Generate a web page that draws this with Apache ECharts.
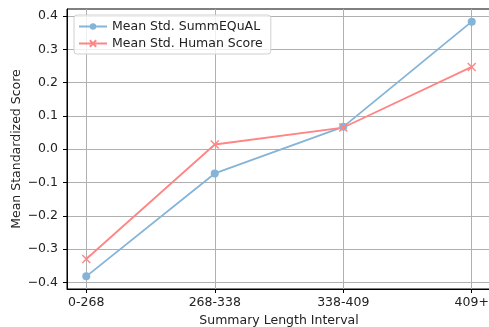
<!DOCTYPE html>
<html><head><meta charset="utf-8">
<script src="https://cdn.jsdelivr.net/npm/echarts@6/dist/echarts.min.js"></script>
<style>html,body{margin:0;padding:0;background:#fff}#c{width:489px;height:327px}</style>
</head><body><div id="c"></div>
<script>
const categories = ['0-268', '268-338', '338-409', '409+'];
const summequal = [-0.382, -0.073, 0.067, 0.383];
const human = [-0.330, 0.014, 0.065, 0.247];
const yTicks = [-0.4, -0.3, -0.2, -0.1, 0.0, 0.1, 0.2, 0.3, 0.4];
const xTicks = [0, 1, 2, 3];

const FONT = 'DejaVu Sans';
const FS = 12.5;
const blue = '#84b4d8', red = '#ff8585';
const chart = echarts.init(document.getElementById('c'));
const fmtY = v => {
  const r = Math.round(v * 10) / 10;
  return (r < 0 ? '\u2212' : '') + Math.abs(r).toFixed(1);
};
chart.setOption({
  animation: false,
  textStyle: {fontFamily: FONT},
  grid: {left: 67, right: -2, top: 9, bottom: 38, containLabel: false, outerBoundsMode: 'none',
    show: true, borderColor: '#000', borderWidth: 1, backgroundColor: 'transparent'},
  xAxis: {
    type: 'value', min: -0.15, max: 3.15,
    name: 'Summary Length Interval', nameLocation: 'middle', nameGap: 25, nameMoveOverlap: false,
    nameTextStyle: {color: '#222', fontSize: FS, fontFamily: FONT},
    axisLine: {show: true, onZero: false, lineStyle: {color: '#000', width: 1}},
    axisTick: {show: true, customValues: xTicks, length: 4, lineStyle: {color: '#000'}},
    axisLabel: {customValues: xTicks, color: '#222', fontSize: FS, fontFamily: FONT, margin: 7,
      formatter: v => categories[Math.round(v)]},
    splitLine: {show: true, lineStyle: {color: '#b0b0b0', width: 1}}
  },
  yAxis: {
    type: 'value', min: -0.42, max: 0.421,
    name: 'Mean Standardized Score', nameLocation: 'middle', nameGap: 44, nameRotate: 90,
    nameMoveOverlap: false,
    nameTextStyle: {color: '#222', fontSize: FS, fontFamily: FONT},
    axisLine: {show: true, onZero: false, lineStyle: {color: '#000', width: 1}},
    axisTick: {show: true, customValues: yTicks, length: 4, lineStyle: {color: '#000'}},
    axisLabel: {customValues: yTicks, color: '#222', fontSize: FS, fontFamily: FONT, margin: 9, formatter: fmtY},
    splitLine: {show: true, lineStyle: {color: '#b0b0b0', width: 1}}
  },
  legend: {
    left: 74, top: 15, orient: 'vertical',
    itemWidth: 28, itemHeight: 8, itemGap: 4,
    padding: [5, 8, 4, 4],
    backgroundColor: 'rgba(255,255,255,0.8)', borderColor: '#d0d0d0', borderWidth: 1, borderRadius: 3,
    textStyle: {color: '#222', fontSize: FS, fontFamily: FONT},
    data: ['Mean Std. SummEQuAL', 'Mean Std. Human Score']
  },
  series: [
    {name: 'Mean Std. SummEQuAL', type: 'line', data: summequal.map((v, i) => [i, v]),
     symbol: 'circle', symbolSize: 8, color: blue, lineStyle: {color: blue, width: 1.8},
     itemStyle: {color: blue}},
    {name: 'Mean Std. Human Score', type: 'line', data: human.map((v, i) => [i, v]),
     symbol: 'path://M-1,-1L1,1M1,-1L-1,1', symbolSize: 8, color: red,
     lineStyle: {color: red, width: 1.8},
     itemStyle: {color: 'none', borderColor: red, borderWidth: 1.4}}
  ]
});
</script></body></html>
